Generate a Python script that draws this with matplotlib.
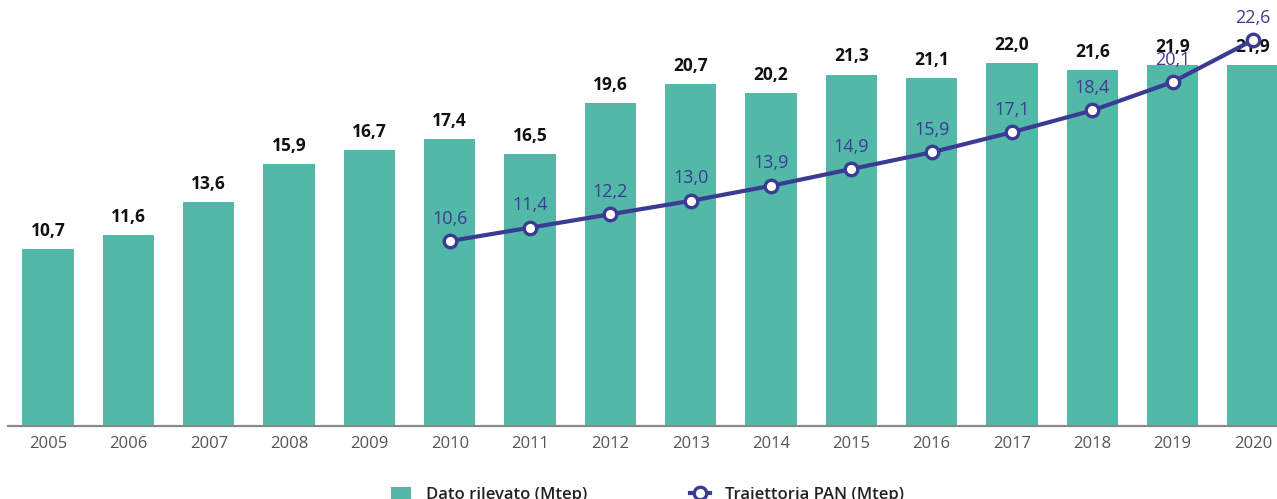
import numpy as np
import matplotlib.pyplot as plt
from matplotlib.lines import Line2D
from matplotlib.patches import Patch

anni = [2005, 2006, 2007, 2008, 2009, 2010, 2011, 2012, 2013, 2014, 2015, 2016, 2017, 2018, 2019, 2020]
dato_rilevato = [10.7, 11.6, 13.6, 15.9, 16.7, 17.4, 16.5, 19.6, 20.7, 20.2, 21.3, 21.1, 22.0, 21.6, 21.9, 21.9]
anni_pan = [2010, 2011, 2012, 2013, 2014, 2015, 2016, 2017, 2018, 2019, 2020]
traiettoria_pan = [10.6, 11.4, 12.2, 13.0, 13.9, 14.9, 15.9, 17.1, 18.4, 20.1, 22.6]

verde = '#52b9a9'
blu = '#3b3b94'

def fmt(v):
    return f'{v:.1f}'.replace('.', ',')

plt.rcParams['font.family'] = ['Open Sans', 'DejaVu Sans']

fig = plt.figure(figsize=(12.77, 4.99), dpi=100)
ax = fig.add_axes([8/1277, 73/499, 1 - 8/1277, 426/499])

x = np.arange(len(anni))
ax.bar(x, dato_rilevato, width=0.64, color=verde, zorder=2)
for xi, v in zip(x, dato_rilevato):
    ax.text(xi, v + 0.55, fmt(v), ha='center', va='bottom', fontsize=12.5,
            fontweight='bold', color='#111111', zorder=5)

ax.set_xlim(-0.5, len(anni) - 1 + 0.3)
ax.set_ylim(0, 426/16.5)
ax.set_xticks(x)
ax.set_xticklabels([str(a) for a in anni], fontsize=12, color='#555555')
ax.tick_params(axis='x', length=0, pad=7)
ax.set_yticks([])
for s in ['top', 'left', 'right']:
    ax.spines[s].set_visible(False)
ax.spines['bottom'].set_color('#888888')
ax.spines['bottom'].set_linewidth(1.6)

ax2 = ax.twinx()
xp = [anni.index(a) for a in anni_pan]
ax2.plot(xp, traiettoria_pan, color=blu, linewidth=3, marker='o', markersize=9,
         markerfacecolor='white', markeredgecolor=blu, markeredgewidth=2.4, zorder=4,
         clip_on=False)
for xi, v in zip(xp, traiettoria_pan):
    ax2.text(xi, v + 0.8, fmt(v), ha='center', va='bottom', fontsize=13,
             color=blu, zorder=6)
ax2.set_ylim(-0.45, 25.0)
ax2.set_yticks([])
for s in ['top', 'left', 'right', 'bottom']:
    ax2.spines[s].set_visible(False)

handles = [Patch(facecolor=verde, edgecolor='none'),
           Line2D([0], [0], color=blu, linewidth=3, marker='o', markersize=9,
                  markerfacecolor='white', markeredgecolor=blu, markeredgewidth=2.4)]
labels = ['Dato rilevato (Mtep)', 'Traiettoria PAN (Mtep)']
leg = fig.legend(handles, labels, loc='center', bbox_to_anchor=(0.507, 0.008), ncol=2,
                 frameon=False, columnspacing=6.2, handlelength=1.2, handletextpad=0.9,
                 prop={'size': 12, 'weight': 'semibold'})
for t in leg.get_texts():
    t.set_color('#222222')

fig.savefig('out.png', dpi=100)
